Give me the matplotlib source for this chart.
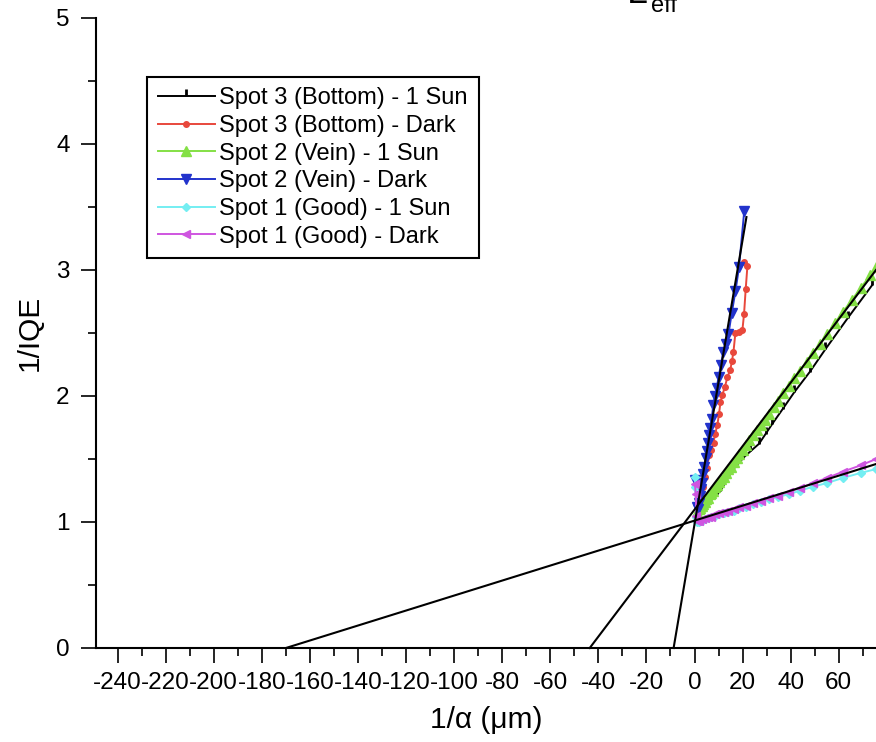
import matplotlib
matplotlib.use("Agg")
import matplotlib.pyplot as plt
from matplotlib.ticker import MultipleLocator

plt.rcParams['font.family'] = ['Liberation Sans', 'DejaVu Sans']
plt.rcParams['axes.unicode_minus'] = False

# ---------------- data ----------------
labels = ["Spot 3 (Bottom) - 1 Sun", "Spot 3 (Bottom) - Dark",
          "Spot 2 (Vein) - 1 Sun", "Spot 2 (Vein) - Dark",
          "Spot 1 (Good) - 1 Sun", "Spot 1 (Good) - Dark"]

s3_sun_x = [1.5, 3.0, 4.5, 6.2, 7.9, 9.4, 10.8, 12.4, 14.1, 15.6, 17.0, 18.6,
            20.3, 23.2, 26.8, 29.6, 32.4, 36.8, 41.5, 47.9, 54.4, 63.8, 73.9]
s3_sun_y = [1.05, 1.09, 1.12, 1.16, 1.19, 1.22, 1.25, 1.30, 1.36, 1.40, 1.44, 1.47,
            1.51, 1.56, 1.62, 1.70, 1.78, 1.90, 2.03, 2.19, 2.37, 2.62, 2.88]

s3_dark_x = [1.0, 1.8, 2.6, 3.4, 4.2, 5.0, 6.2, 7.0, 7.9, 8.6, 9.5, 10.2, 10.8,
             11.6, 12.6, 13.7, 14.9, 15.6, 16.2, 17.0, 18.5, 19.9, 20.6, 21.3, 22.0, 20.6]
s3_dark_y = [1.06, 1.12, 1.20, 1.28, 1.36, 1.43, 1.53, 1.57, 1.63, 1.70, 1.77, 1.86, 1.95,
             2.01, 2.07, 2.15, 2.21, 2.28, 2.35, 2.50, 2.51, 2.52, 2.65, 2.85, 3.03, 3.06]

s2_sun_x = [1.2, 1.8, 2.4, 3.0, 3.6, 4.2, 4.9, 5.6, 6.3, 7.0, 7.8, 8.6, 9.4, 10.3,
            11.2, 12.1, 13.1, 14.1, 15.2, 16.3, 17.5, 18.7, 20.0, 21.4, 22.8, 24.3,
            25.9, 27.5, 29.2, 31.0, 32.9, 34.9, 37.0, 39.2, 41.5, 44.0, 46.6, 49.3,
            52.2, 55.2, 58.4, 61.8, 65.4, 69.2, 73.2, 75.5]
s2_sun_y = [1.08, 1.10, 1.11, 1.13, 1.14, 1.16, 1.18, 1.19, 1.22, 1.23, 1.25, 1.28,
            1.29, 1.32, 1.34, 1.36, 1.39, 1.42, 1.44, 1.48, 1.51, 1.54, 1.57, 1.61,
            1.65, 1.69, 1.73, 1.77, 1.81, 1.86, 1.91, 1.96, 2.02, 2.08, 2.14, 2.20,
            2.27, 2.34, 2.41, 2.49, 2.58, 2.67, 2.76, 2.86, 2.96, 3.02]

s2_dark_x = [0.3, 0.9, 1.4, 1.9, 2.4, 2.9, 3.3, 3.7, 4.1, 4.6, 5.0, 5.5, 5.9, 6.5,
             7.2, 7.8, 8.5, 9.2, 10.0, 11.0, 12.0, 13.0, 14.1, 15.5, 17.0, 18.5, 20.7]
s2_dark_y = [1.33, 1.12, 1.10, 1.15, 1.21, 1.26, 1.31, 1.38, 1.44, 1.51, 1.56, 1.63,
             1.69, 1.75, 1.82, 1.93, 2.00, 2.06, 2.15, 2.25, 2.35, 2.41, 2.49, 2.66,
             2.83, 3.02, 3.47]

s1_sun_x = [0.1, 0.4, 0.8, 1.2, 2.0, 3.0, 4.2, 5.5, 7.0, 8.6, 10.3, 12.1, 14.1, 16.3,
            18.7, 21.4, 24.3, 27.5, 31.0, 34.9, 39.2, 44.0, 49.3, 55.2, 61.8, 69.2, 75.5]
s1_sun_y = [1.36, 1.28, 1.04, 1.00, 1.00, 1.01, 1.02, 1.03, 1.04, 1.05, 1.06, 1.07,
            1.08, 1.09, 1.11, 1.12, 1.14, 1.16, 1.18, 1.20, 1.22, 1.25, 1.28, 1.31,
            1.35, 1.39, 1.42]

s1_dark_x = [0.2, 0.5, 0.8, 1.2, 2.0, 3.0, 4.2, 5.5, 7.0, 8.6, 10.3, 12.1, 14.1, 16.3,
             18.7, 21.4, 24.3, 27.5, 31.0, 34.9, 39.2, 44.0, 49.3, 55.2, 61.8, 69.2, 75.5]
s1_dark_y = [1.30, 1.22, 1.05, 1.01, 1.01, 1.02, 1.03, 1.04, 1.04, 1.06, 1.07, 1.08,
             1.09, 1.10, 1.12, 1.13, 1.15, 1.17, 1.19, 1.21, 1.24, 1.27, 1.31, 1.35,
             1.40, 1.45, 1.50]

# linear fits extrapolated to the x axis (L_eff intercepts)
fit_spot1_x = [-170.0, 75.5]
fit_spot1_y = [0.0, 1.46]
fit_spot2_x = [-43.6, 75.5]
fit_spot2_y = [0.0, 3.00]
fit_spot3_x = [-8.7, 21.6]
fit_spot3_y = [0.0, 3.42]

x_ticks = list(range(-240, 61, 20))
y_ticks = [0, 1, 2, 3, 4, 5]

# ---------------- figure ----------------
fig = plt.figure(figsize=(8.76, 7.42), dpi=100)
ax = fig.add_axes([96 / 876, (742 - 648) / 742, (876 - 96) / 876, (648 - 18) / 742])

series = [
    (s3_sun_x, s3_sun_y, 'black', 2, 5, 2.0),
    (s3_dark_x, s3_dark_y, '#e8483c', 'o', 4, 1.0),
    (s2_sun_x, s2_sun_y, '#84e045', '^', 7, 1.0),
    (s2_dark_x, s2_dark_y, '#2233cc', 'v', 7, 1.0),
    (s1_sun_x, s1_sun_y, '#74eef2', 'D', 4.5, 1.0),
    (s1_dark_x, s1_dark_y, '#cf55e0', '<', 6, 1.0),
]
handles = []
for (xs, ys, c, m, ms, mew), lab in zip(series, labels):
    h, = ax.plot(xs, ys, color=c, marker=m, markersize=ms, markeredgewidth=mew,
                 markeredgecolor=c, markerfacecolor=c, linewidth=1.4, label=lab)
    handles.append(h)

for fx, fy in [(fit_spot1_x, fit_spot1_y), (fit_spot2_x, fit_spot2_y),
               (fit_spot3_x, fit_spot3_y)]:
    ax.plot(fx, fy, color='black', linewidth=1.5, zorder=5, clip_on=False)

ax.set_xlim(-249, 75.5)
ax.set_ylim(0, 5)
ax.set_xticks(x_ticks)
ax.set_yticks(y_ticks)
ax.xaxis.set_minor_locator(MultipleLocator(10))
ax.yaxis.set_minor_locator(MultipleLocator(0.5))

for s in ['top', 'right']:
    ax.spines[s].set_visible(False)
for s in ['left', 'bottom']:
    ax.spines[s].set_linewidth(1.5)

ax.tick_params(axis='both', which='major', direction='out', length=11, width=1.2,
               labelsize=17.5)
ax.tick_params(axis='both', which='minor', direction='out', length=6, width=1.2)
ax.tick_params(axis='y', which='major', pad=8)
ax.tick_params(axis='x', which='major', pad=6)

ax.set_xlabel('1/α (μm)', fontsize=21.5, labelpad=9)
ax.set_ylabel('1/IQE', fontsize=21.5, labelpad=9)

leg = ax.legend(handles=handles, loc='upper left', bbox_to_anchor=(0.066, 0.907),
                borderaxespad=0, fontsize=17, frameon=True, fancybox=False,
                edgecolor='black', framealpha=1, numpoints=1, handlelength=2.4,
                handletextpad=0.2, labelspacing=0.24, borderpad=0.45)
leg.get_frame().set_linewidth(1.5)

# partially visible title at the top edge
fig.text(627 / 876, 1 - 3 / 742, 'L', fontsize=27, va='baseline', ha='left')
fig.text(651 / 876, 1 - 12 / 742, 'eff', fontsize=17, va='baseline', ha='left')

fig.savefig('out.png', dpi=100)
